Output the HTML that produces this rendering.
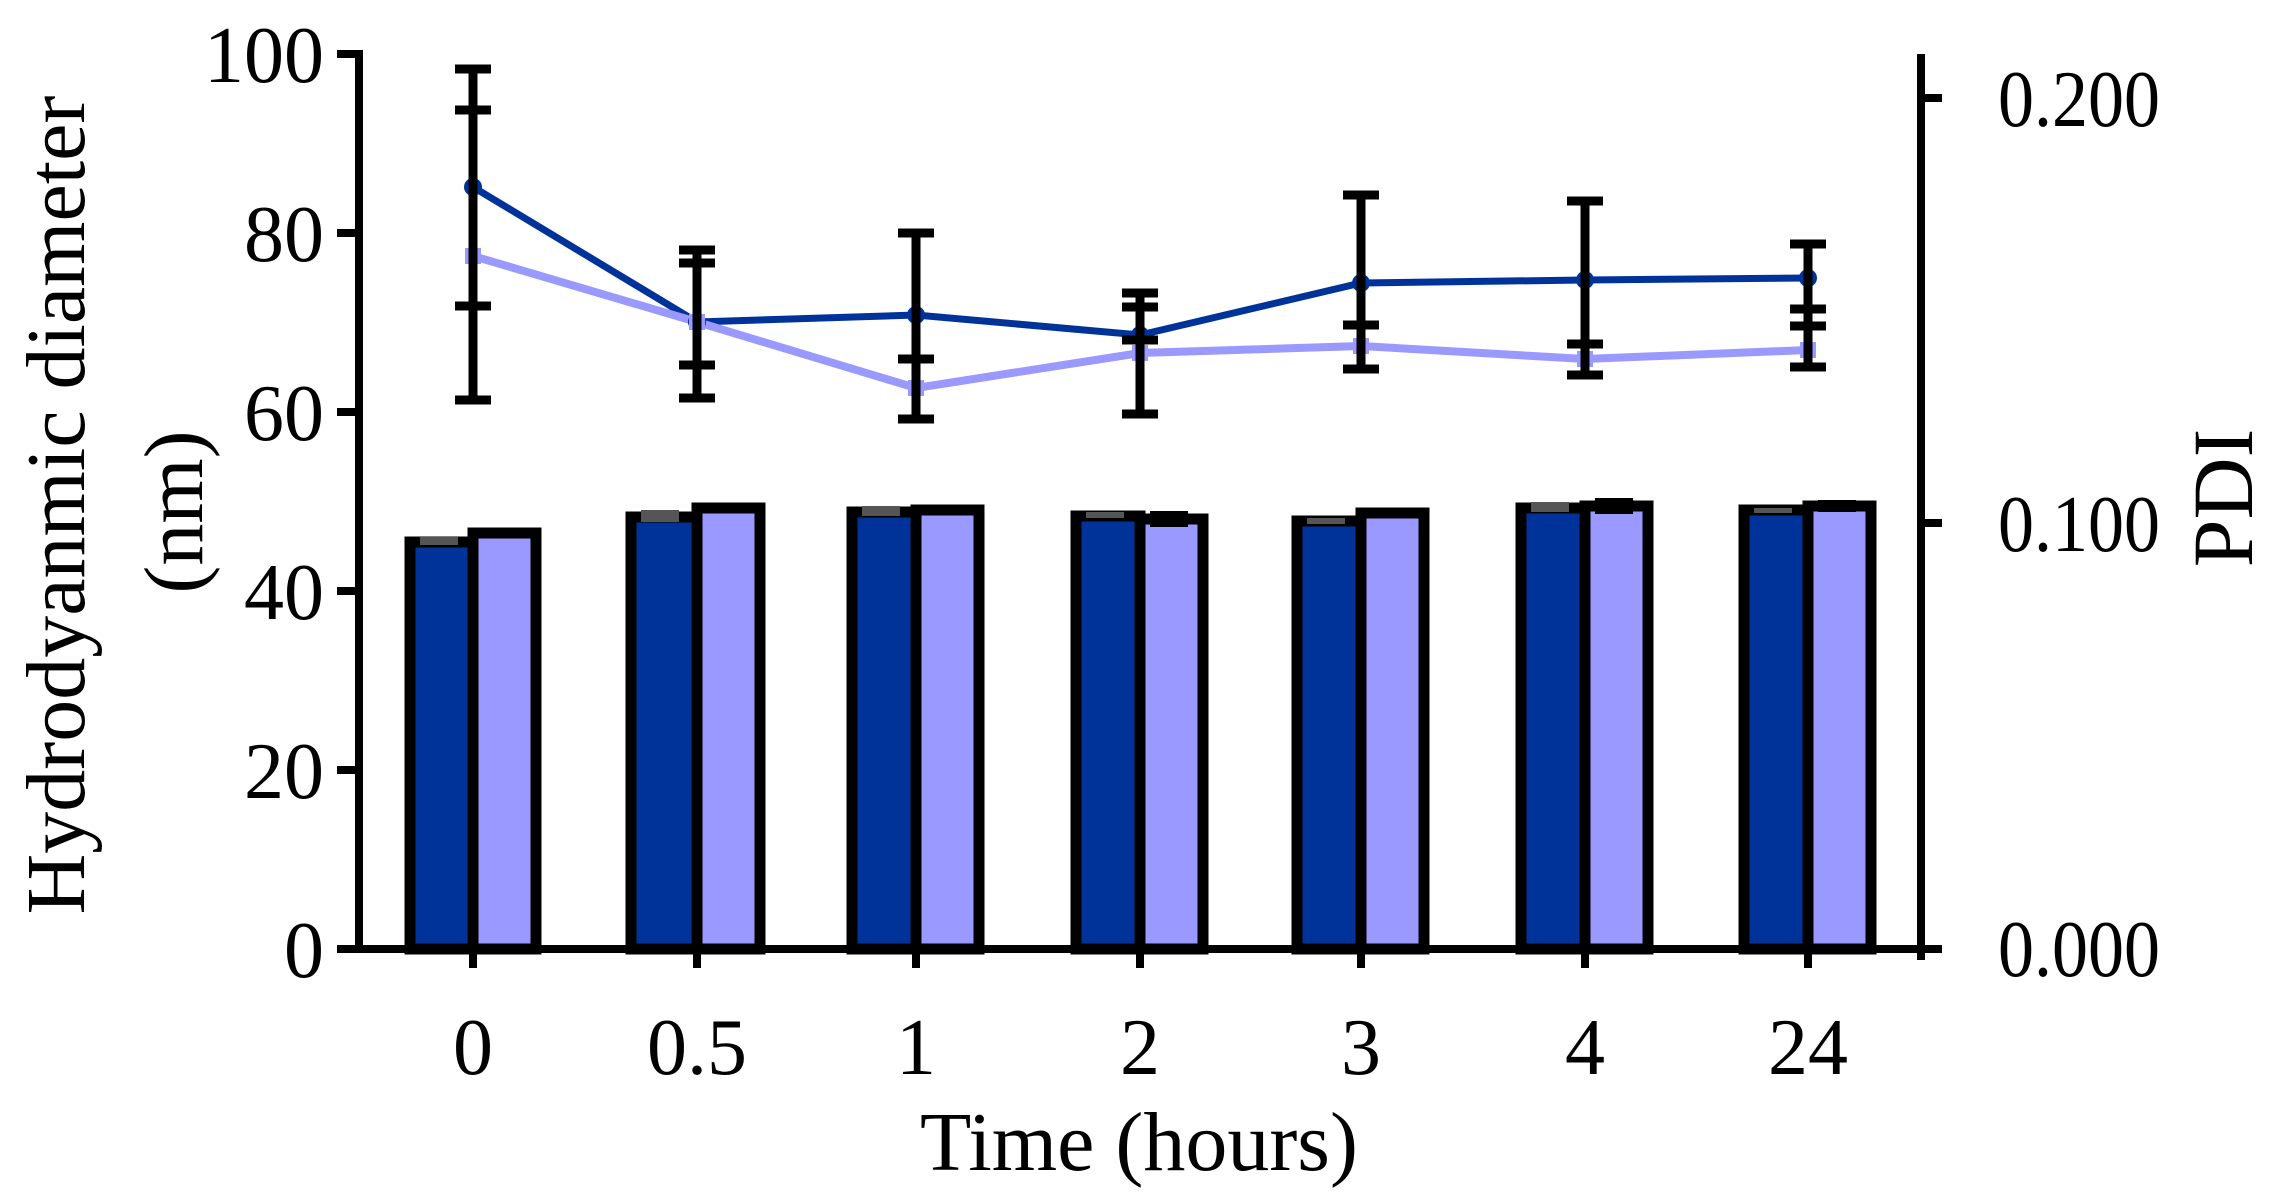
<!DOCTYPE html>
<html><head><style>body{margin:0;background:#fff}svg{display:block}text{font-family:"Liberation Serif",serif;fill:#000}</style></head><body>
<svg width="2284" height="1193" viewBox="0 0 2284 1193">
<g font-size="80">
<g text-anchor="end">
<text x="324" y="82">100</text><text x="324" y="261">80</text><text x="324" y="440">60</text><text x="324" y="619">40</text><text x="324" y="798">20</text><text x="324" y="977">0</text>
</g>
<text x="1998" y="126" textLength="162" lengthAdjust="spacingAndGlyphs">0.200</text><text x="1998" y="551" textLength="162" lengthAdjust="spacingAndGlyphs">0.100</text><text x="1998" y="976" textLength="162" lengthAdjust="spacingAndGlyphs">0.000</text>
<g text-anchor="middle">
<text x="473" y="1074">0</text><text x="697" y="1074">0.5</text><text x="916" y="1074">1</text><text x="1140" y="1074">2</text><text x="1361" y="1074">3</text><text x="1585" y="1074">4</text><text x="1808" y="1074">24</text>
<text x="1139" y="1170" font-size="84">Time (hours)</text>
<text transform="translate(84,505) rotate(-90)" font-size="84">Hydrodyanmic diameter</text>
<text transform="translate(202,512) rotate(-90)" font-size="84">(nm)</text>
<text transform="translate(2252,498) rotate(-90)" font-size="86">PDI</text>
</g></g>
<g id="bars" stroke="#000" stroke-width="11">
<rect x="410" y="542" width="63" height="407" fill="#003399"/><rect x="473" y="533" width="63" height="416" fill="#9999ff"/>
<rect x="631" y="517" width="66" height="432" fill="#003399"/><rect x="697" y="508" width="63" height="441" fill="#9999ff"/>
<rect x="852" y="512" width="64" height="437" fill="#003399"/><rect x="916" y="510" width="63" height="439" fill="#9999ff"/>
<rect x="1076" y="516" width="64" height="433" fill="#003399"/><rect x="1140" y="519" width="63" height="430" fill="#9999ff"/>
<rect x="1297" y="521" width="64" height="428" fill="#003399"/><rect x="1361" y="513" width="63" height="436" fill="#9999ff"/>
<rect x="1521" y="508" width="64" height="441" fill="#003399"/><rect x="1585" y="506" width="63" height="443" fill="#9999ff"/>
<rect x="1744" y="510" width="64" height="439" fill="#003399"/><rect x="1808" y="506" width="63" height="443" fill="#9999ff"/>
</g>
<g stroke="#000" stroke-width="8" fill="none">
<path d="M359 50V949M337 949H1921M1921 54V960"/>
<path d="M337 54H359M337 233H359M337 412H359M337 591H359M337 770H359M1921 98H1942M1921 523H1942M1921 949H1942"/>
<path d="M473 949V968M697 949V968M916 949V968M1140 949V968M1361 949V968M1585 949V968M1808 949V968"/>
</g>
<g fill="none" stroke-width="7">
<path d="M473 187L697 322L916 315L1140 335L1361 283L1585 280L1808 278" stroke="#003399"/>
<path d="M473 256L697 322L916 388L1140 353L1361 346L1585 359L1808 350" stroke="#9999ff" stroke-width="8"/>
</g>
<g fill="#003399"><circle cx="473" cy="187" r="9"/><circle cx="697" cy="322" r="9"/><circle cx="916" cy="315" r="9"/><circle cx="1140" cy="335" r="9"/><circle cx="1361" cy="283" r="9"/><circle cx="1585" cy="280" r="9"/><circle cx="1808" cy="278" r="9"/></g>
<g fill="#9999ff"><rect x="465" y="248" width="16" height="16"/><rect x="689" y="314" width="16" height="16"/><rect x="908" y="380" width="16" height="16"/><rect x="1132" y="345" width="16" height="16"/><rect x="1353" y="338" width="16" height="16"/><rect x="1577" y="351" width="16" height="16"/><rect x="1800" y="342" width="16" height="16"/></g>
<g stroke="#000" stroke-width="9" fill="none">
<path d="M473 69V400M455 69H491M455 110H491M455 306H491M455 400H491"/>
<path d="M697 250V398M679 250H715M679 263H715M679 365H715M679 398H715"/>
<path d="M916 233V419M898 233H934M898 359H934M898 419H934"/>
<path d="M1140 293V414M1122 293H1158M1122 307H1158M1122 340H1158M1122 414H1158"/>
<path d="M1361 195V369M1343 195H1379M1343 325H1379M1343 369H1379"/>
<path d="M1585 201V375M1567 201H1603M1567 344H1603M1567 375H1603"/>
<path d="M1808 244V367M1790 244H1826M1790 309H1826M1790 326H1826M1790 367H1826"/>
</g>
<g fill="#555"><rect x="420" y="537" width="38" height="8"/><rect x="641" y="510" width="38" height="12"/><rect x="862" y="506" width="38" height="10"/><rect x="1086" y="512" width="38" height="6"/><rect x="1307" y="518" width="38" height="6"/><rect x="1531" y="502" width="38" height="10"/><rect x="1754" y="508" width="38" height="5"/></g>
<g fill="#000"><rect x="483" y="528" width="38" height="10"/><rect x="707" y="503" width="38" height="10"/><rect x="926" y="506" width="38" height="9"/><rect x="1150" y="511" width="38" height="16"/><rect x="1371" y="508" width="38" height="10"/><rect x="1595" y="498" width="38" height="16"/><rect x="1818" y="500" width="38" height="12"/></g>
</svg>
</body></html>
